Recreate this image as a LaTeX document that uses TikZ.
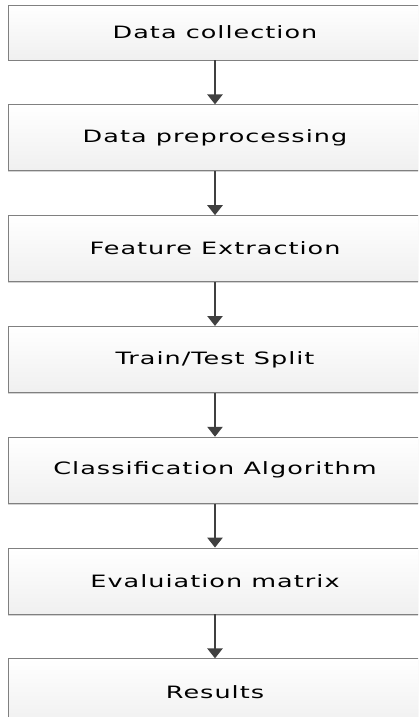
\documentclass[tikz,border=0pt]{standalone}
\usepackage{fontspec}
\newfontfamily\stagefont[FakeStretch=1.5,LetterSpace=6]{DejaVu Sans}
\usetikzlibrary{arrows.meta,positioning,shadows}
\definecolor{arrowgray}{HTML}{404040}
\definecolor{framegray}{HTML}{808080}

\begin{document}
\begin{tikzpicture}[
    x=1pt,y=-1pt,
    >={Triangle[width=15pt,length=10pt]},
    stage/.style={draw=framegray,line width=0.8pt,
        top color=white,bottom color=gray!12,
        drop shadow={shadow xshift=0pt,shadow yshift=-1.5pt,opacity=0.35},
        minimum width=414pt,minimum height=66pt,inner sep=0pt,
        font=\stagefont\fontsize{17}{20}\selectfont,text=black},
    flow/.style={->,line width=2.6pt,arrowgray},
    node distance=44pt,
]
\clip (0,0) rectangle (418,717);

% Stages of the pipeline
\node[stage,minimum height=55pt] (collect) at (215,32.5) {Data collection};
\node[stage,below=of collect] (prep) {Data preprocessing};
\node[stage,below=of prep] (feat) {Feature Extraction};
\node[stage,below=of feat] (split) {Train/Test Split};
\node[stage,below=of split] (classify) {Classification Algorithm};
\node[stage,below=of classify] (evalm) {Evaluiation matrix};
\node[stage,below=of evalm] (results) {Results};

% Arrows between stages
\draw[flow] (collect) -- (prep);
\draw[flow] (prep) -- (feat);
\draw[flow] (feat) -- (split);
\draw[flow] (split) -- (classify);
\draw[flow] (classify) -- (evalm);
\draw[flow] (evalm) -- (results);
\end{tikzpicture}
\end{document}
